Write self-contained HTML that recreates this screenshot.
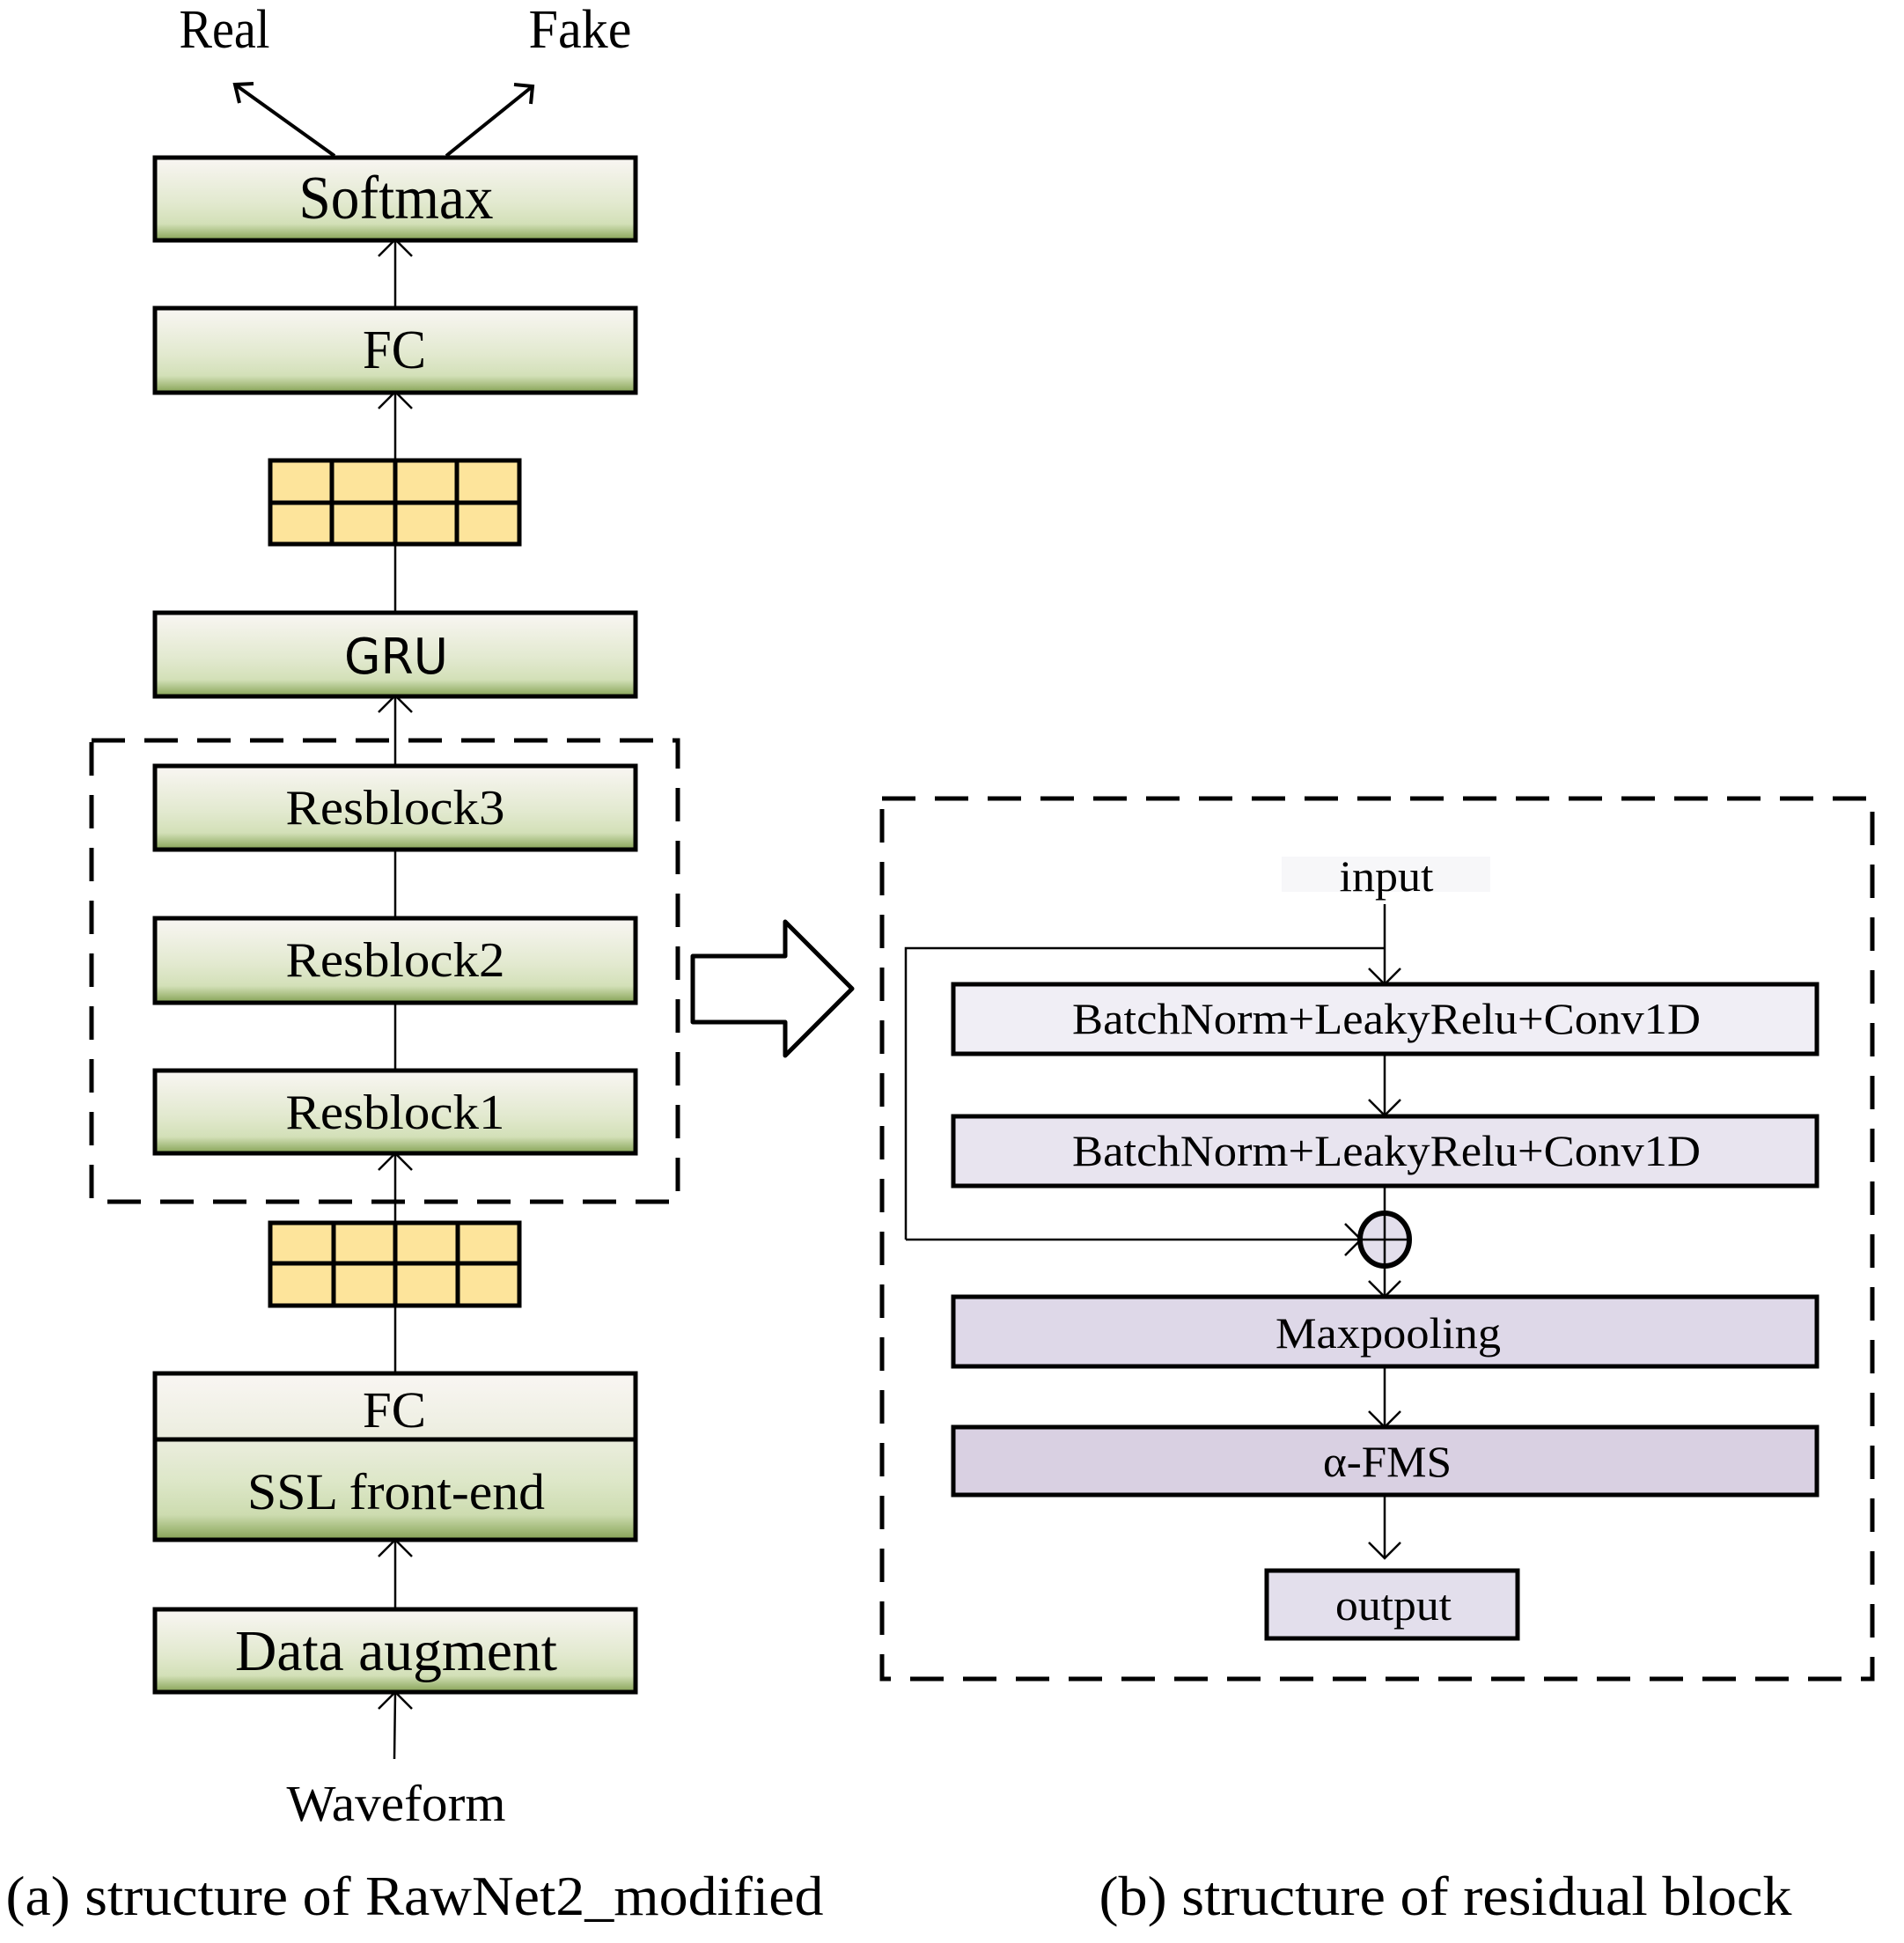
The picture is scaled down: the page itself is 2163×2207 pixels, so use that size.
<!DOCTYPE html>
<html><head><meta charset="utf-8"><style>html,body{margin:0;padding:0;background:#fff}svg{display:block}</style></head>
<body>
<svg width="2163" height="2207" viewBox="0 0 2163 2207" xmlns="http://www.w3.org/2000/svg" font-family="Liberation Serif, serif">
<defs>
<linearGradient id="g" x1="0" y1="0" x2="0" y2="1">
<stop offset="0" stop-color="#f9f6f3"/><stop offset="0.55" stop-color="#e2e9cf"/><stop offset="0.8" stop-color="#d3e0b8"/><stop offset="1" stop-color="#85a254"/>
</linearGradient>
<linearGradient id="g2" x1="0" y1="0" x2="0" y2="1">
<stop offset="0" stop-color="#f9f6f3"/><stop offset="0.4" stop-color="#ebedde"/><stop offset="0.65" stop-color="#dde7c8"/><stop offset="0.85" stop-color="#cddcb0"/><stop offset="1" stop-color="#85a254"/>
</linearGradient>
</defs>
<g stroke="#000" fill="none">
<line x1="380" y1="177" x2="267" y2="96" stroke-width="4"/>
<polyline points="288,95 267,96 272,117" stroke-width="4"/>
<line x1="507" y1="177" x2="605" y2="98" stroke-width="4"/>
<polyline points="584,96 605,98 603,118" stroke-width="4"/>
<line x1="449" y1="273" x2="449" y2="350" stroke-width="2.5"/>
<polyline points="430,291 449,272 468,291" stroke-width="2.5"/>
<line x1="449" y1="446" x2="449" y2="696" stroke-width="2.5"/>
<polyline points="430,464 449,445 468,464" stroke-width="2.5"/>
<line x1="449" y1="791" x2="449" y2="870" stroke-width="2.5"/>
<polyline points="430,809 449,790 468,809" stroke-width="2.5"/>
<line x1="449" y1="965" x2="449" y2="1043" stroke-width="2.5"/>
<line x1="449" y1="1139" x2="449" y2="1216" stroke-width="2.5"/>
<line x1="449" y1="1310" x2="449" y2="1560" stroke-width="2.5"/>
<polyline points="430,1329 449,1310 468,1329" stroke-width="2.5"/>
<line x1="449" y1="1749" x2="449" y2="1828" stroke-width="2.5"/>
<polyline points="430,1768 449,1749 468,1768" stroke-width="2.5"/>
<line x1="448" y1="1998" x2="449" y2="1922" stroke-width="2.5"/>
<polyline points="430,1941 449,1922 468,1941" stroke-width="2.5"/>
</g>
<g stroke="#000" stroke-width="5">
<rect x="176" y="179" width="546" height="94" fill="url(#g)"/>
<rect x="176" y="350" width="546" height="96" fill="url(#g)"/>
<rect x="176" y="696" width="546" height="95" fill="url(#g)"/>
<rect x="176" y="870" width="546" height="95" fill="url(#g)"/>
<rect x="176" y="1043" width="546" height="96" fill="url(#g)"/>
<rect x="176" y="1216" width="546" height="94" fill="url(#g)"/>
<rect x="176" y="1560" width="546" height="189" fill="url(#g2)"/>
<line x1="176" y1="1635" x2="722" y2="1635"/>
<rect x="176" y="1828" width="546" height="94" fill="url(#g)"/>
</g>
<g stroke="#000" stroke-width="5" fill="#fde49b">
<rect x="307" y="523" width="283" height="95"/>
<line x1="307" y1="571" x2="590" y2="571"/><line x1="377" y1="523" x2="377" y2="618"/><line x1="449" y1="523" x2="449" y2="618"/><line x1="519" y1="523" x2="519" y2="618"/>
<rect x="307" y="1389" width="283" height="94"/>
<line x1="307" y1="1435" x2="590" y2="1435"/><line x1="379" y1="1389" x2="379" y2="1483"/><line x1="449" y1="1389" x2="449" y2="1483"/><line x1="520" y1="1389" x2="520" y2="1483"/>
</g>
<rect x="104" y="841" width="666" height="524" fill="none" stroke="#000" stroke-width="5" stroke-dasharray="38,22"/>
<rect x="1002" y="907" width="1125" height="1000" fill="none" stroke="#000" stroke-width="5" stroke-dasharray="38,22"/>
<polygon points="787,1086 892,1086 892,1047 968,1123 892,1199 892,1161 787,1161" fill="#fff" stroke="#000" stroke-width="5" stroke-linejoin="round"/>
<rect x="1456" y="973" width="237" height="40" fill="#f7f7f9"/>
<g stroke="#000" fill="none" stroke-width="2.5">
<line x1="1573" y1="1027" x2="1573" y2="1118"/>
<polyline points="1029,1408 1029,1077 1573,1077"/>
<polyline points="1555,1100 1573,1118 1591,1100"/>
<line x1="1573" y1="1197" x2="1573" y2="1267"/>
<polyline points="1555,1249 1573,1267 1591,1249"/>
<line x1="1029" y1="1408" x2="1546" y2="1408"/>
<polyline points="1528,1390 1546,1408 1528,1426"/>
<line x1="1573" y1="1347" x2="1573" y2="1473"/>
<polyline points="1555,1455 1573,1473 1591,1455"/>
<line x1="1573" y1="1552" x2="1573" y2="1621"/>
<polyline points="1555,1603 1573,1621 1591,1603"/>
<line x1="1573" y1="1698" x2="1573" y2="1770"/>
<polyline points="1555,1752 1573,1770 1591,1752"/>
</g>
<g stroke="#000" stroke-width="5">
<rect x="1083" y="1118" width="981" height="79" fill="#f0eef5"/>
<rect x="1083" y="1268" width="981" height="79" fill="#e8e4ef"/>
<rect x="1083" y="1473" width="981" height="79" fill="#ded8e8"/>
<rect x="1083" y="1621" width="981" height="77" fill="#d9d0e2"/>
<rect x="1439" y="1784" width="285" height="77" fill="#e3dfec"/>
<ellipse cx="1573" cy="1408" rx="28" ry="30" fill="#e3dfec" stroke-width="6"/>
</g>
<g stroke="#000" stroke-width="2.5"><line x1="1573" y1="1378" x2="1573" y2="1438"/><line x1="1545" y1="1408" x2="1601" y2="1408"/></g>
<g fill="#000" text-anchor="middle" font-size="62">
<text x="255" y="54" textLength="103" lengthAdjust="spacingAndGlyphs">Real</text>
<text x="659" y="54" textLength="117" lengthAdjust="spacingAndGlyphs">Fake</text>
<text x="450" y="248" font-size="70" textLength="221" lengthAdjust="spacingAndGlyphs">Softmax</text>
<text x="448" y="418" textLength="72" lengthAdjust="spacingAndGlyphs">FC</text>
<text x="450" y="765" font-family="DejaVu Sans, sans-serif" font-size="56" textLength="118" lengthAdjust="spacingAndGlyphs">GRU</text>
<text x="449" y="936" font-size="56" textLength="249" lengthAdjust="spacingAndGlyphs">Resblock3</text>
<text x="449" y="1109" font-size="56" textLength="249" lengthAdjust="spacingAndGlyphs">Resblock2</text>
<text x="449" y="1282" font-size="56" textLength="249" lengthAdjust="spacingAndGlyphs">Resblock1</text>
<text x="448" y="1621" font-size="58" textLength="72" lengthAdjust="spacingAndGlyphs">FC</text>
<text x="450" y="1714" font-size="58" textLength="338" lengthAdjust="spacingAndGlyphs">SSL front-end</text>
<text x="450" y="1897" font-size="66" textLength="366" lengthAdjust="spacingAndGlyphs">Data augment</text>
<text x="450" y="2068" font-size="58" textLength="249" lengthAdjust="spacingAndGlyphs">Waveform</text>
<text x="471" y="2175" font-size="64" textLength="929" lengthAdjust="spacingAndGlyphs">(a) structure of RawNet2_modified</text>
<text x="1642" y="2175" font-size="64" textLength="787" lengthAdjust="spacingAndGlyphs">(b) structure of residual block</text>
<text x="1575" y="1012" font-size="50" textLength="107" lengthAdjust="spacingAndGlyphs">input</text>
<text x="1575" y="1174" font-size="50" textLength="714" lengthAdjust="spacingAndGlyphs">BatchNorm+LeakyRelu+Conv1D</text>
<text x="1575" y="1324" font-size="50" textLength="714" lengthAdjust="spacingAndGlyphs">BatchNorm+LeakyRelu+Conv1D</text>
<text x="1577" y="1531" font-size="50" textLength="256" lengthAdjust="spacingAndGlyphs">Maxpooling</text>
<text x="1576" y="1677" font-size="50" textLength="146" lengthAdjust="spacingAndGlyphs">α-FMS</text>
<text x="1583" y="1840" font-size="50" textLength="132" lengthAdjust="spacingAndGlyphs">output</text>
</g>
</svg>
</body></html>
